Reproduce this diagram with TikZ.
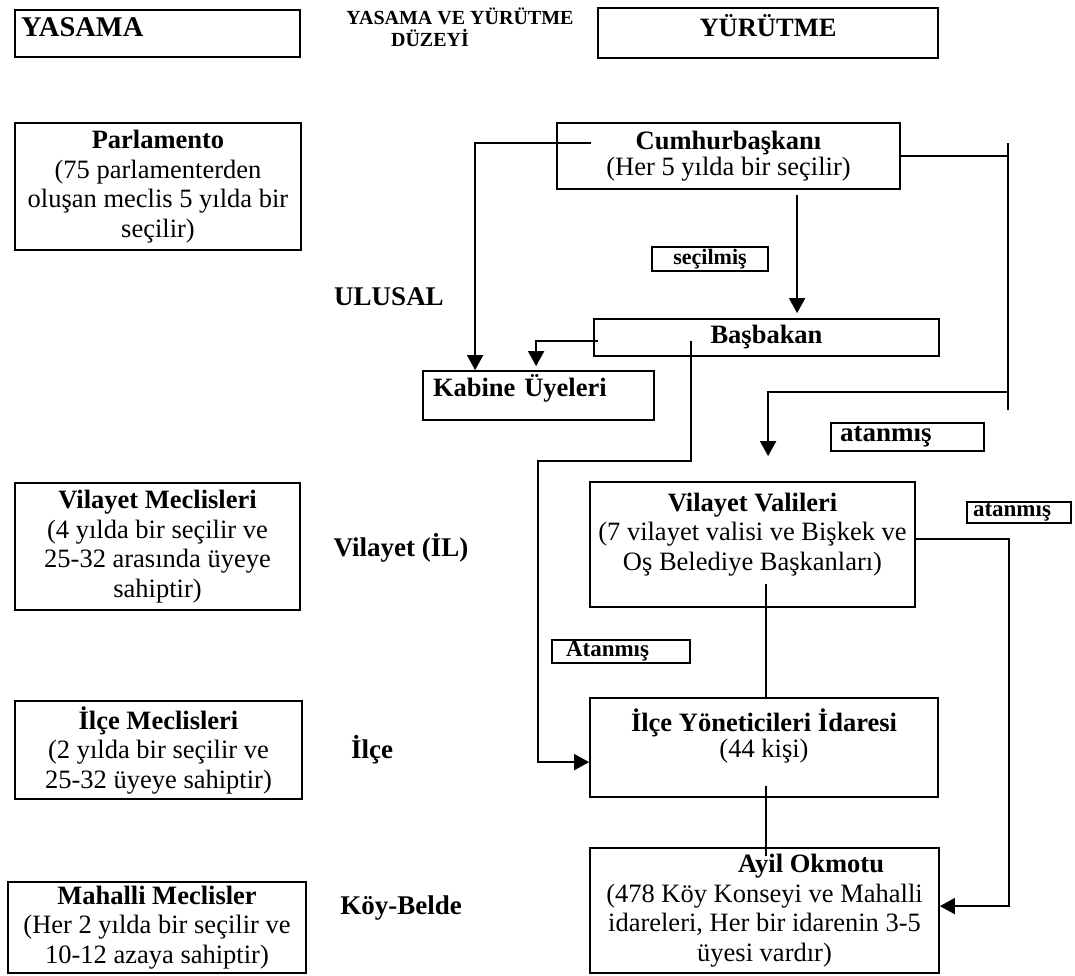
\documentclass[tikz,border=0pt]{standalone}
\usepackage{fontspec}
\setmainfont{Liberation Serif}
\usetikzlibrary{arrows.meta,calc}

\begin{document}
\begin{tikzpicture}[x=1pt,y=-1pt,line width=1.8pt,
    box/.style={draw,align=center,inner sep=0pt,font=\fontsize{26.5}{29.5}\selectfont},
    tag/.style={draw,inner sep=0pt,align=left,font=\bfseries\fontsize{23}{25}\selectfont},
    level/.style={font=\bfseries\fontsize{27}{30}\selectfont},
    arr/.style={-{Triangle[length=15pt,width=16pt]}}]
    \useasboundingbox (0,0) rectangle (1075,975);

    % top row
    \node[box,minimum width=285pt,minimum height=47pt,text width=273pt,align=left] (Yasama) at (157.5,33.5) {\textbf{\fontsize{28.5}{29.5}\selectfont YASAMA}\\[-16.5pt]\mbox{}};
    \node[align=center,inner sep=0pt,font=\bfseries\fontsize{20}{19}\selectfont] (Duzey) at (460,27) {YASAMA VE YÜRÜTME\\[3pt]DÜZEYİ\hspace*{60pt}};
    \node[box,minimum width=340pt,minimum height=50pt] (Yurutme) at (768,33) {\textbf{YÜRÜTME}\\[-13.5pt]\mbox{}};

    % ulusal
    \node[box,minimum width=286pt,minimum height=127pt] (Parlamento) at (158,186.5) {\textbf{Parlamento}\\(75 parlamenterden\\oluşan meclis 5 yılda bir\\seçilir)};
    \node[box,minimum width=343pt,minimum height=66pt] (Cumhurbaskani) at (728.5,156) {\textbf{Cumhurbaşkanı}\\[-3.5pt](Her 5 yılda bir seçilir)};
    \node[tag,minimum width=116pt,minimum height=24pt,align=center,font=\bfseries\fontsize{22}{24}\selectfont] (Secilmis) at (710,259) {seçilmiş};
    \node[level] (Ulusal) at (389,297) {ULUSAL};
    \node[box,minimum width=345pt,minimum height=37pt] (Basbakan) at (766.5,337.5) {\textbf{Başbakan}};
    \node[box,minimum width=231pt,minimum height=49pt,text width=211pt,align=left] (Kabine) at (538.5,395.5) {\textbf{Kabine Üyeleri}\\[-10pt]\mbox{}};
    \node[tag,minimum width=153pt,minimum height=28pt,text width=135pt,font=\bfseries\fontsize{27}{29}\selectfont] (Atanmis A) at (907.5,437) {atanmış};

    % vilayet
    \node[box,minimum width=285pt,minimum height=127pt] (Vilayet Meclisleri) at (157.5,546.5) {\textbf{Vilayet Meclisleri}\\(4 yılda bir seçilir ve\\25-32 arasında üyeye\\sahiptir)};
    \node[level] (Vilayet) at (401,548) {Vilayet (İL)};
    \node[box,minimum width=325pt,minimum height=125pt] (Vilayet Valileri) at (752.5,544.5) {\textbf{Vilayet Valileri}\\(7 vilayet valisi ve Bişkek ve\\Oş Belediye Başkanları)\\[-3.5pt]\mbox{}};
    \node[tag,minimum width=104pt,minimum height=21pt,text width=92pt] (Atanmis B) at (1019,512.5) {atanmış};
    \node[tag,minimum width=138pt,minimum height=23pt,text width=110pt] (Atanmis C) at (621,651.5) {Atanmış};

    % ilce
    \node[box,minimum width=287pt,minimum height=98pt] (Ilce Meclisleri) at (158.5,750) {\textbf{İlçe Meclisleri}\\(2 yılda bir seçilir ve\\25-32 üyeye sahiptir)};
    \node[level] (Ilce) at (372,750) {İlçe};
    \node[box,minimum width=348pt,minimum height=99pt] (Ilce Yoneticileri) at (764,747.5) {\textbf{İlçe Yöneticileri İdaresi}\\[-3.5pt](44 kişi)\\ \mbox{}};

    % koy-belde
    \node[box,minimum width=298pt,minimum height=91pt] (Mahalli Meclisler) at (157,927.5) {\textbf{Mahalli Meclisler}\\(Her 2 yılda bir seçilir ve\\10-12 azaya sahiptir)};
    \node[level] (Koy) at (401,908) {Köy-Belde};
    \node[box,minimum width=349pt,minimum height=125pt] (Ayil Okmotu) at (764.5,910.5) {\hspace*{93pt}\textbf{Ayil Okmotu}\\(478 Köy Konseyi ve Mahalli\\idareleri, Her bir idarenin 3-5\\üyesi vardır)};

    \coordinate (Sag Ust) at (1008,143);
    \coordinate (Sag Alt) at (1008,410);
    \coordinate (Sag Kol) at (1008,392);
    \coordinate (Kirik) at (538,461);

    \draw[arr] ($(Cumhurbaskani.north west)+(35,21)$) -| ($(Kabine.north west)+(53,0)$);
    \draw[arr] ($(Cumhurbaskani.south west)+(241,5)$) -- ($(Basbakan.north west)+(204,-5)$);
    \draw (Cumhurbaskani.east) -- (Cumhurbaskani.east -| Sag Ust);
    \draw (Sag Ust) -- (Sag Alt);
    \draw[arr] (Sag Kol) -| ($(Vilayet Valileri.north west)+(179,-25)$);
    \draw[arr] ($(Basbakan.north west)+(5,23)$) -| ($(Kabine.north west)+(114,-4)$);
    \draw[arr] ($(Basbakan.north west)+(98,23)$) |- (Kirik) |- ($(Ilce Yoneticileri.north west)+(0,65)$);
    \draw ($(Vilayet Valileri.north west)+(177,103)$) -- ($(Ilce Yoneticileri.north west)+(177,0)$);
    \draw ($(Ilce Yoneticileri.north west)+(177,89)$) -- ($(Ayil Okmotu.north west)+(177,9)$);
    \draw[arr] ($(Vilayet Valileri.north east)+(0,58)$) -| ($(Ayil Okmotu.north east)+(69,59)$) -- ($(Ayil Okmotu.north east)+(0,59)$);
\end{tikzpicture}
\end{document}
